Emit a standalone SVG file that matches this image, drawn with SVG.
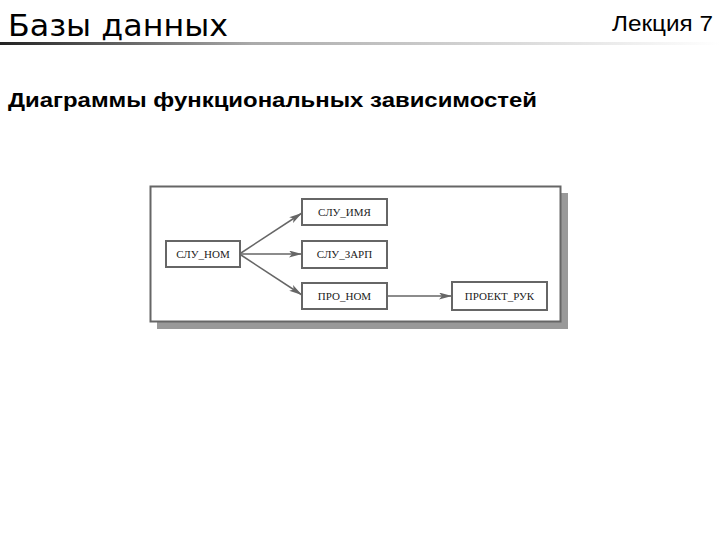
<svg xmlns="http://www.w3.org/2000/svg" width="720" height="540" viewBox="0 0 720 540">
<style>
.title{font-family:"DejaVu Sans",sans-serif;font-size:31px;fill:#000}
.lec{font-family:"Liberation Sans",sans-serif;font-size:22px;fill:#000}
.sub{font-family:"Liberation Sans",sans-serif;font-size:21px;font-weight:bold;fill:#000}
.box{fill:#fff;stroke:#666;stroke-width:2}
.lbl{font-family:"Liberation Serif",serif;font-size:11px;fill:#222;text-anchor:middle}
.con{stroke:#666;stroke-width:1.5;fill:none}
</style>
<defs>
<linearGradient id="hr" x1="0" y1="0" x2="1" y2="0">
<stop offset="0" stop-color="#222"/>
<stop offset="0.35" stop-color="#aaa"/>
<stop offset="1" stop-color="#fff"/>
</linearGradient>
<marker id="ah" viewBox="0 0 13 7" refX="13" refY="3.5" markerWidth="13" markerHeight="7" markerUnits="userSpaceOnUse" orient="auto">
<path d="M0,0 L13,3.5 L0,7 L3,3.5 Z" fill="#666"/>
</marker>
</defs>
<rect width="720" height="540" fill="#fff"/>
<g id="header">
<text class="title" x="8" y="36" textLength="220" lengthAdjust="spacingAndGlyphs">Базы данных</text>
<text class="lec" x="612" y="31" textLength="101" lengthAdjust="spacingAndGlyphs">Лекция 7</text>
<rect x="0" y="42" width="720" height="3" fill="url(#hr)"/>
<text class="sub" x="8" y="107" textLength="529" lengthAdjust="spacingAndGlyphs">Диаграммы функциональных зависимостей</text>
</g>
<g id="frame">
<rect x="157" y="193" width="411" height="136" fill="#999"/>
<rect x="150.5" y="186.5" width="410" height="135" fill="#fff" stroke="#666" stroke-width="2"/>
</g>
<g id="connectors">
<line class="con" x1="241" y1="253" x2="302" y2="213" marker-end="url(#ah)"/>
<line class="con" x1="241" y1="254" x2="302" y2="254" stroke-width="2.5" marker-end="url(#ah)"/>
<line class="con" x1="241" y1="255" x2="302" y2="295" marker-end="url(#ah)"/>
<line class="con" x1="388" y1="296" x2="452" y2="296" marker-end="url(#ah)"/>
</g>
<g id="n_slu_nom">
<rect class="box" x="166" y="241" width="74" height="26"/>
<text class="lbl" x="203" y="258">СЛУ_НОМ</text>
</g>
<g id="n_slu_imya">
<rect class="box" x="302" y="199" width="85" height="26"/>
<text class="lbl" x="344.5" y="216">СЛУ_ИМЯ</text>
</g>
<g id="n_slu_zarp">
<rect class="box" x="302" y="241" width="85" height="27"/>
<text class="lbl" x="344.5" y="258">СЛУ_ЗАРП</text>
</g>
<g id="n_pro_nom">
<rect class="box" x="302" y="283" width="85" height="26"/>
<text class="lbl" x="344.5" y="300">ПРО_НОМ</text>
</g>
<g id="n_proekt_ruk">
<rect class="box" x="452" y="282" width="95" height="28"/>
<text class="lbl" x="499.5" y="300">ПРОЕКТ_РУК</text>
</g>
</svg>
